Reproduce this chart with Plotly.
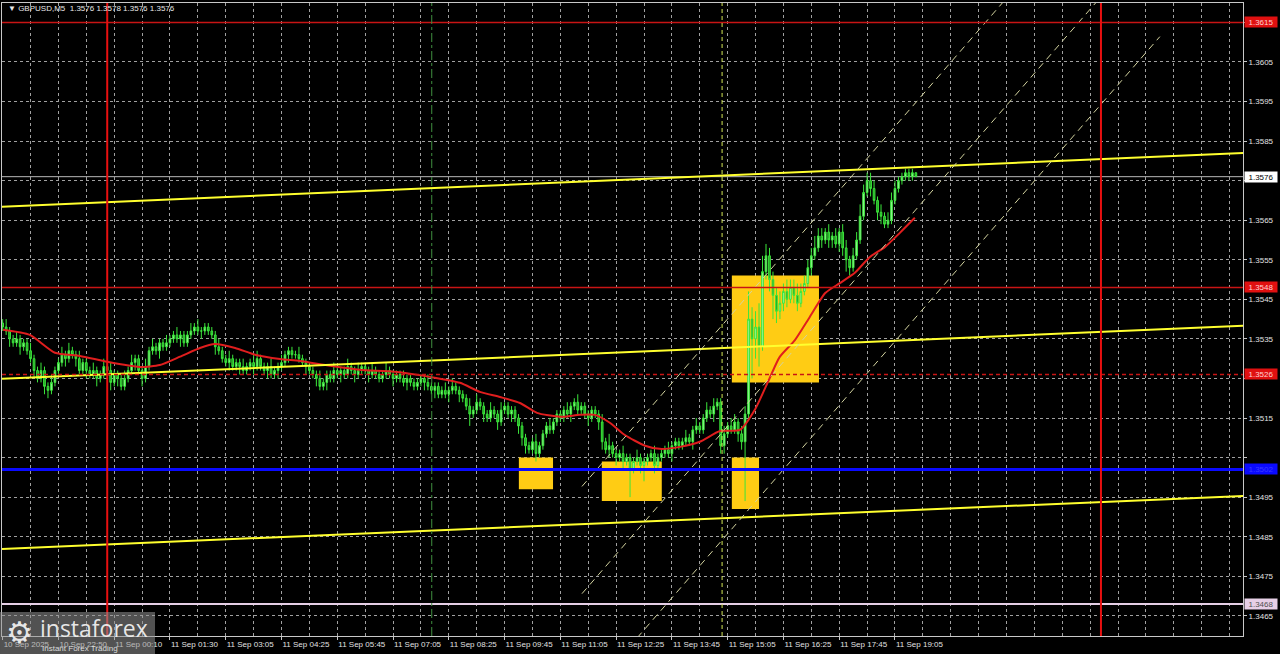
import plotly.graph_objects as go

# ---------------- data ----------------
# M5 bar index: 0 = "11 Sep 00:10"; prices in pips above 1.3500
BASE = 1.35
PIP = 0.0001
first_bar = -32
first_open_pips = 39

close_pips = [
    38, 37, 35, 34, 35, 33, 34, 32, 30, 27,
    25, 27, 23, 22, 24, 27, 29, 31, 30, 32,
    31, 30, 27, 29, 27, 26, 27, 25, 26, 28,
    27, 24, 26, 25, 23, 25, 27, 29, 30, 27,
    25, 28, 32, 33, 32, 34, 33, 34, 35, 36,
    35, 36, 34, 36, 37, 38, 37, 37, 38, 37,
    36, 33, 32, 30, 29, 30, 28, 29, 28, 27,
    28, 29, 28, 30, 28, 27, 28, 26, 27, 28,
    29, 31, 32, 31, 31, 30, 29, 28, 27, 26,
    25, 23, 24, 26, 25, 27, 26, 27, 26, 28,
    27, 26, 27, 28, 27, 26, 27, 26, 25, 26,
    27, 26, 25, 26, 25, 24, 25, 24, 23, 24,
    25, 24, 23, 22, 23, 21, 22, 21, 22, 23,
    22, 21, 20, 18, 16, 17, 19, 18, 16, 15,
    17, 16, 14, 17, 18, 16, 17, 15, 13, 10,
    8, 7, 9, 6, 8, 11, 13, 12, 14, 16,
    15, 17, 16, 18, 19, 17, 18, 16, 15, 17,
    16, 14, 9, 7, 8, 6, 5, 6, 4, 5,
    2, 4, 5, 3, 4, 5, 6, 3, 5, 6,
    7, 6, 8, 9, 8, 9, 10, 9, 12, 13,
    12, 15, 17, 16, 18, 19, 8, 11, 13, 12,
    14, 11, 9, 16, 40, 35, 38, 33, 52, 56,
    50, 46, 42, 44, 47, 45, 48, 46, 44, 47,
    49, 53, 56, 58, 61, 60, 62, 60, 61, 59,
    62, 58, 55, 53, 56, 60, 66, 72, 75, 73,
    70, 67, 66, 64, 65, 70, 73, 75, 76, 77,
    76, 77, 76,
]
upper_wick = [
    1, 2, 1, 1, 2, 1, 1, 1, 2, 1,
    1, 2, 1, 1, 2, 1, 1, 2, 1, 2,
    1, 1, 2, 1, 1, 1, 2, 1, 1, 2,
    1, 2, 1, 1, 1, 2, 1, 2, 1, 1,
    1, 2, 1, 2, 1, 1, 1, 2, 1, 1,
    2, 1, 1, 1, 2, 1, 2, 1, 1, 1,
    1, 1, 2, 1, 1, 2, 1, 1, 1, 2,
    1, 1, 2, 2, 1, 1, 1, 2, 1, 1,
    2, 1, 1, 1, 1, 2, 1, 1, 1, 1,
    1, 2, 1, 1, 1, 2, 1, 1, 1, 2,
    1, 1, 2, 1, 1, 1, 2, 1, 1, 1,
    2, 1, 1, 1, 1, 2, 1, 1, 1, 1,
    1, 1, 2, 1, 1, 1, 1, 2, 1, 2,
    1, 1, 1, 1, 2, 1, 2, 1, 1, 1,
    2, 1, 1, 2, 1, 1, 1, 1, 1, 1,
    1, 1, 1, 2, 1, 1, 1, 2, 1, 1,
    1, 1, 2, 1, 1, 2, 1, 1, 1, 1,
    1, 1, 2, 1, 3, 1, 1, 1, 2, 1,
    1, 1, 2, 1, 1, 1, 1, 2, 1, 1,
    1, 2, 1, 1, 1, 1, 2, 1, 1, 2,
    1, 1, 2, 1, 2, 1, 1, 2, 1, 2,
    2, 1, 2, 2, 7, 3, 4, 6, 4, 3,
    2, 2, 2, 3, 2, 3, 2, 2, 3, 2,
    2, 2, 2, 3, 2, 2, 1, 2, 1, 2,
    1, 2, 2, 1, 2, 2, 3, 2, 2, 2,
    2, 1, 2, 1, 2, 2, 2, 1, 1, 1,
    1, 1, 0,
]
lower_wick = [
    1, 1, 2, 1, 1, 2, 1, 1, 1, 2,
    1, 1, 2, 2, 1, 1, 1, 1, 2, 1,
    1, 2, 1, 1, 2, 1, 1, 2, 1, 1,
    1, 2, 1, 2, 1, 1, 1, 1, 2, 1,
    2, 1, 1, 1, 1, 2, 1, 1, 1, 1,
    1, 2, 1, 1, 1, 1, 1, 2, 1, 1,
    1, 2, 1, 1, 1, 2, 1, 1, 2, 1,
    1, 1, 2, 1, 1, 1, 2, 1, 1, 2,
    1, 1, 2, 1, 1, 1, 1, 2, 1, 1,
    2, 1, 1, 2, 1, 1, 1, 2, 1, 1,
    1, 2, 1, 1, 1, 2, 1, 1, 1, 1,
    1, 1, 2, 1, 1, 1, 2, 1, 1, 1,
    1, 2, 1, 1, 2, 1, 1, 1, 2, 1,
    1, 2, 1, 1, 3, 1, 1, 1, 2, 1,
    1, 1, 2, 1, 1, 1, 2, 1, 2, 2,
    2, 1, 1, 2, 1, 1, 1, 1, 1, 1,
    1, 1, 1, 2, 1, 1, 1, 1, 2, 1,
    1, 2, 2, 1, 2, 1, 2, 1, 2, 1,
    7, 1, 1, 2, 4, 1, 1, 2, 1, 1,
    1, 1, 2, 1, 1, 1, 1, 1, 2, 1,
    1, 1, 1, 1, 2, 1, 2, 2, 1, 1,
    1, 2, 2, 15, 1, 10, 5, 5, 1, 2,
    3, 6, 3, 2, 2, 2, 1, 2, 2, 1,
    1, 1, 2, 1, 1, 2, 1, 2, 2, 1,
    2, 2, 3, 2, 1, 1, 1, 1, 1, 2,
    1, 2, 2, 1, 1, 1, 1, 1, 1, 1,
    1, 1, 0,
]

# moving average (red line), sampled points
ma_bar = [-31.9, -24.2, -17, -9.8, -2, 7.4, 13.1, 18.9, 24.6, 28.9, 34.7, 40.4,
          47.6, 53.3, 61.9, 70.5, 80.5, 90.6, 99.2, 104.9, 110.7, 116.4, 121.3,
          127.9, 133.6, 137.9, 142.2, 146.5, 152.3, 156.5, 162.3, 168.0, 173.8,
          179.5, 183.8, 187.8, 190.9, 195.3, 199.6, 204, 208.2, 212.5, 216.8,
          221.1, 225.4, 229.7]
ma_pips = [37.3, 36.0, 31.5, 30.7, 29.2, 27.9, 28.4, 30.5, 32.7, 33.7, 32.7, 31.0,
           29.9, 29.4, 28.2, 27.2, 26.7, 25.4, 23.9, 21.6, 20.3, 18.8, 16.3,
           15.3, 15.8, 15.8, 13.8, 10.7, 8.0, 7.2, 7.7, 9.0, 11.7,
           12.0, 17.1, 24.6, 30.4, 34.7, 40.6, 46.6, 49.1, 51.7, 55.7,
           58.2, 61.8, 65.6]

# yellow trend lines (pips at both ends)
trend_bar = [-32.2, 323.9]
trend_top = [68.4, 82.0]
trend_mid = [24.9, 38.3]
trend_bot = [-18.1, -4.7]

# dashed regression channel
chan_bar = [134.2, 300]
chan_upper = [-2.3, 165.7]
chan_middle = [-29.4, 138.6]
chan_lower = [-56.6, 111.4]

# horizontal levels
red_levels = [1.3615, 1.3548]
red_dashed_level = 1.3526
blue_level = 1.3502
pink_level = 1.3468
current_price = 1.3576

# vertical markers (bar index)
day_separators = [-2, 283.1]
green_event = 91.1
lime_event = 174.4

# yellow signal boxes
box_start = [116.1, 139.9, 177.2, 177.2]
box_end = [125.9, 157.1, 185.0, 202.2]
box_low = [1.3497, 1.3494, 1.3492, 1.3524]
box_high = [1.3505, 1.3504, 1.3505, 1.3551]

# time axis labels
label_bars = [-32, -16, 0, 16, 32, 48, 64, 80, 96, 112, 128, 144, 160, 176, 192, 208, 224]
label_text = ["10 Sep 2025", "10 Sep 22:50", "11 Sep 00:10", "11 Sep 01:30", "11 Sep 03:05",
              "11 Sep 04:25", "11 Sep 05:45", "11 Sep 07:05", "11 Sep 08:25", "11 Sep 09:45",
              "11 Sep 11:05", "11 Sep 12:25", "11 Sep 13:45", "11 Sep 15:05", "11 Sep 16:25",
              "11 Sep 17:45", "11 Sep 19:05"]
grid_bars = list(range(-32, 330, 8))

# price axis ticks (labels hidden where a level tag covers them)
price_ticks = [1.3465, 1.3475, 1.3485, 1.3495, 1.3505, 1.3515, 1.3525, 1.3535, 1.3545,
               1.3555, 1.3565, 1.3575, 1.3585, 1.3595, 1.3605, 1.3615]
price_tick_text = ["1.3465", "1.3475", "1.3485", "1.3495", "", "1.3515", "", "1.3535",
                   "1.3545", "1.3555", "1.3565", "", "1.3585", "1.3595", "1.3605", ""]

# ---------------- build ----------------
bars = list(range(first_bar, first_bar + len(close_pips)))
open_pips = [first_open_pips] + close_pips[:-1]
o = [BASE + p * PIP for p in open_pips]
c = [BASE + p * PIP for p in close_pips]
h = [BASE + (max(a, b) + w) * PIP for a, b, w in zip(open_pips, close_pips, upper_wick)]
l = [BASE + (min(a, b) - w) * PIP for a, b, w in zip(open_pips, close_pips, lower_wick)]

def px(pips):
    return [BASE + p * PIP for p in pips]

fig = go.Figure()

fig.add_trace(go.Candlestick(
    x=bars, open=o, high=h, low=l, close=c,
    increasing=dict(line=dict(color="#3be63b", width=1), fillcolor="#a6f7a6"),
    decreasing=dict(line=dict(color="#3be63b", width=1), fillcolor="#239a23"),
    whiskerwidth=0, showlegend=False, hoverinfo="skip"))

fig.add_trace(go.Scatter(x=ma_bar, y=px(ma_pips), mode="lines",
                         line=dict(color="#e01e1e", width=2, shape="spline", smoothing=0.6),
                         showlegend=False, hoverinfo="skip"))

for arr in (trend_top, trend_mid, trend_bot):
    fig.add_trace(go.Scatter(x=trend_bar, y=px(arr), mode="lines",
                             line=dict(color="#ffff2e", width=2),
                             showlegend=False, hoverinfo="skip"))

for arr in (chan_upper, chan_middle, chan_lower):
    fig.add_trace(go.Scatter(x=chan_bar, y=px(arr), mode="lines",
                             line=dict(color="#d4d4a0", width=1, dash="7px,5px"),
                             showlegend=False, hoverinfo="skip"))

shapes = []
for x0, x1, y0, y1 in zip(box_start, box_end, box_low, box_high):
    shapes.append(dict(type="rect", xref="x", yref="y", x0=x0, x1=x1, y0=y0, y1=y1,
                       fillcolor="#ffcc14", line=dict(width=0), layer="between"))
for lv in red_levels:
    shapes.append(dict(type="line", xref="paper", yref="y", x0=0, x1=1, y0=lv, y1=lv,
                       line=dict(color="#c81414", width=1.5), layer="above"))
shapes.append(dict(type="line", xref="paper", yref="y", x0=0, x1=1,
                   y0=red_dashed_level, y1=red_dashed_level,
                   line=dict(color="#c81414", width=1.5, dash="4px,3px"), layer="above"))
shapes.append(dict(type="line", xref="paper", yref="y", x0=0, x1=1,
                   y0=blue_level, y1=blue_level,
                   line=dict(color="#0a0aff", width=3), layer="above"))
shapes.append(dict(type="line", xref="paper", yref="y", x0=0, x1=1,
                   y0=pink_level, y1=pink_level,
                   line=dict(color="#e6cfe6", width=2), layer="above"))
shapes.append(dict(type="line", xref="paper", yref="y", x0=0, x1=1,
                   y0=current_price, y1=current_price,
                   line=dict(color="#b9b9b9", width=1), layer="below"))
for xb in day_separators:
    shapes.append(dict(type="line", xref="x", yref="paper", x0=xb, x1=xb, y0=0, y1=1,
                       line=dict(color="#e81010", width=2), layer="above"))
shapes.append(dict(type="line", xref="x", yref="paper", x0=green_event, x1=green_event, y0=0, y1=1,
                   line=dict(color="#3f8f3f", width=1, dash="dashdot"), layer="above"))
shapes.append(dict(type="line", xref="x", yref="paper", x0=lime_event, x1=lime_event, y0=0, y1=1,
                   line=dict(color="#d2e655", width=1, dash="4px,3px"), layer="above"))
# logo panel
shapes.append(dict(type="rect", xref="paper", yref="paper", x0=-0.0016, x1=0.1233,
                   y0=-0.0284, y1=0.0379, fillcolor="rgba(150,150,150,0.55)",
                   line=dict(width=0), layer="above"))

annotations = []
label_specs = [
    (red_levels[0], "#e01010", "#ffd0d0"),
    (current_price, "#ffffff", "#000000"),
    (red_levels[1], "#e01010", "#ffd0d0"),
    (red_dashed_level, "#e01010", "#ffd0d0"),
    (blue_level, "#0a0aff", "#3a3aff"),
    (pink_level, "#e6cfe6", "#505050"),
]
for val, bg, fg in label_specs:
    annotations.append(dict(xref="paper", yref="y", x=1, y=val, xanchor="left", yanchor="middle",
                            xshift=1, text=f"{val:.4f}", showarrow=False, bgcolor=bg,
                            width=32, height=10, borderpad=0,
                            font=dict(family="Liberation Sans", size=8, color=fg)))
annotations.append(dict(xref="paper", yref="paper", x=0.0032, y=0.992, xanchor="left",
                        yanchor="middle", showarrow=False,
                        text="▼ GBPUSD,M5  1.3576 1.3578 1.3576 1.3576",
                        font=dict(family="Liberation Sans", size=8, color="#e8e8e8")))
annotations.append(dict(xref="paper", yref="paper", x=0.0145, y=0.006, xanchor="center",
                        yanchor="middle", showarrow=False, text="⚙",
                        font=dict(family="DejaVu Sans", size=30, color="rgba(240,240,240,0.95)")))
annotations.append(dict(xref="paper", yref="paper", x=0.029, y=0.013, xanchor="left",
                        yanchor="middle", showarrow=False, text="instaforex",
                        font=dict(family="Open Sans", size=23, color="rgba(240,240,240,0.95)")))
annotations.append(dict(xref="paper", yref="paper", x=0.031, y=-0.019, xanchor="left",
                        yanchor="middle", showarrow=False, text="Instant Forex Trading",
                        font=dict(family="Liberation Sans", size=8, color="rgba(235,235,235,0.9)")))

fig.update_layout(
    width=1280, height=654,
    margin=dict(l=2, r=37, t=3, b=18, autoexpand=False),
    paper_bgcolor="#000000", plot_bgcolor="#000000",
    showlegend=False, hovermode=False,
    shapes=shapes, annotations=annotations,
    xaxis=dict(
        range=[-32.19, 323.85], rangeslider=dict(visible=False),
        tickmode="array", tickvals=label_bars, ticktext=label_text,
        ticklabelposition="outside right", tickangle=0, automargin=False,
        ticks="outside", ticklen=3, tickcolor="#c8c8c8",
        tickfont=dict(family="Liberation Sans", size=8, color="#e0e0e0"),
        showgrid=False, zeroline=False,
        minor=dict(tickmode="array", tickvals=grid_bars, showgrid=True,
                   gridcolor="#a0a0a0", griddash="3px,3px", gridwidth=1, ticks=""),
        showline=True, linecolor="#c8c8c8", linewidth=1, mirror=True,
    ),
    yaxis=dict(
        range=[1.34599, 1.36199], side="right", automargin=False,
        tickmode="array", tickvals=price_ticks, ticktext=price_tick_text,
        ticks="outside", ticklen=3, tickcolor="#c8c8c8",
        tickfont=dict(family="Liberation Sans", size=8, color="#e0e0e0"),
        showgrid=True, gridcolor="#a0a0a0", griddash="3px,3px", gridwidth=1,
        zeroline=False,
        showline=True, linecolor="#c8c8c8", linewidth=1, mirror=True,
    ),
)

fig.write_html(
    "out.html",
    config={"displayModeBar": False},
    post_script="document.body.style.margin='0px';document.body.style.overflow='hidden';",
)
